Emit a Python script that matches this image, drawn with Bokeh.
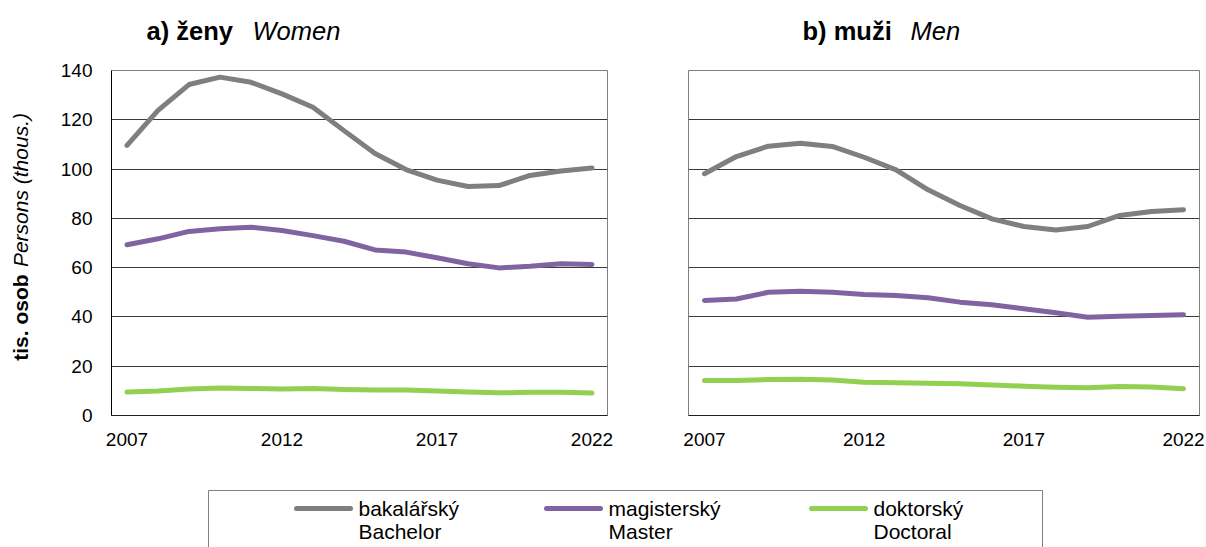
import math
from bokeh.plotting import figure
from bokeh.models import Range1d, FixedTicker
from bokeh.layouts import column, row
from bokeh.embed import file_html
from bokeh.resources import INLINE
from bokeh.core.properties import value

# ---------------- data ----------------
years = [2007, 2008, 2009, 2010, 2011, 2012, 2013, 2014,
         2015, 2016, 2017, 2018, 2019, 2020, 2021, 2022]

women_bachelor = [109.6, 123.8, 134.3, 137.3, 135.2, 130.5, 125.1, 115.6,
                  106.3, 99.8, 95.5, 92.9, 93.3, 97.4, 99.2, 100.4]
women_master = [69.3, 71.7, 74.7, 75.8, 76.4, 75.1, 73.0, 70.7,
                67.2, 66.3, 64.0, 61.6, 59.9, 60.6, 61.6, 61.3]
women_doctoral = [9.5, 9.9, 10.8, 11.2, 11.0, 10.8, 11.0, 10.6,
                  10.3, 10.3, 9.9, 9.5, 9.2, 9.4, 9.4, 9.1]

men_bachelor = [98.1, 105.1, 109.3, 110.5, 109.2, 104.8, 99.7, 91.6,
                85.2, 79.8, 76.7, 75.3, 76.7, 81.2, 82.8, 83.5]
men_master = [46.7, 47.3, 50.0, 50.4, 50.0, 49.1, 48.7, 47.8,
              46.0, 44.9, 43.3, 41.7, 39.9, 40.3, 40.6, 40.9]
men_doctoral = [14.2, 14.2, 14.6, 14.7, 14.4, 13.5, 13.3, 13.1,
                12.9, 12.4, 11.9, 11.5, 11.3, 11.8, 11.6, 10.9]

series_cz = ["bakalářský", "magisterský", "doktorský"]
series_en = ["Bachelor", "Master", "Doctoral"]
series_colors = ["#7f7f7f", "#8064a2", "#92d050"]

x_ticks = [2007, 2012, 2017, 2022]
y_ticks = [0, 20, 40, 60, 80, 100, 120, 140]

panel_titles_cz = ["a) ženy", "b) muži"]
panel_titles_en = ["Women", "Men"]
y_label_cz = "tis. osob"
y_label_en = "Persons (thous.)"

FONT = "Liberation Sans"


def strip(width, height, xr, yr):
    f = figure(width=width, height=height, x_range=xr, y_range=yr,
               output_backend="svg", toolbar_location=None,
               x_axis_type=None, y_axis_type=None, min_border=0)
    f.outline_line_color = None
    f.grid.visible = False
    return f


def make_panel(width, b_left, b_right, show_y):
    p = figure(width=width, height=430,
               x_range=Range1d(2006.5, 2022.5), y_range=Range1d(0, 140),
               output_backend="svg", toolbar_location=None,
               min_border_left=b_left, min_border_right=b_right,
               min_border_top=20, min_border_bottom=65)
    p.outline_line_color = "#808080"
    p.outline_line_width = 1
    p.xgrid.grid_line_color = None
    p.ygrid.ticker = FixedTicker(ticks=y_ticks)
    p.ygrid.grid_line_color = "#3a3a3a"
    p.ygrid.grid_line_width = 1

    p.xaxis.ticker = FixedTicker(ticks=x_ticks)
    p.xaxis.axis_line_color = "#202020"
    p.xaxis.major_tick_line_color = None
    p.xaxis.minor_tick_line_color = None
    p.xaxis.major_tick_out = 0
    p.xaxis.major_tick_in = 0
    p.xaxis.major_label_standoff = 17
    p.xaxis.major_label_text_font = FONT
    p.xaxis.major_label_text_font_size = "19px"
    p.xaxis.major_label_text_color = "#000000"

    p.yaxis.ticker = FixedTicker(ticks=y_ticks)
    if show_y:
        p.yaxis.axis_line_color = "#000000"
        p.yaxis.major_tick_line_color = None
        p.yaxis.minor_tick_line_color = None
        p.yaxis.major_tick_out = 0
        p.yaxis.major_tick_in = 0
        p.yaxis.major_label_standoff = 19
        p.yaxis.major_label_text_font = FONT
        p.yaxis.major_label_text_font_size = "19px"
        p.yaxis.major_label_text_color = "#000000"
    else:
        p.yaxis.visible = False
    return p


# ---------------- header (panel titles) ----------------
header = strip(1206, 50, Range1d(0, 1206), Range1d(50, 0))
header.text(x=[146, 802], y=[30, 30], text=panel_titles_cz,
            text_font=value(FONT), text_font_size="25.5px",
            text_font_style="bold", text_align="left",
            text_baseline="middle", text_color="#000000")
header.text(x=[252, 910], y=[30, 30], text=panel_titles_en,
            text_font=value(FONT), text_font_size="25.5px",
            text_font_style="italic", text_align="left",
            text_baseline="middle", text_color="#000000")

# ---------------- y-axis title strip ----------------
ystrip = strip(40, 430, Range1d(0, 40), Range1d(0, 430))
ystrip.text(x=[20], y=[122], text=[y_label_cz], angle=math.pi / 2,
            text_font=value(FONT), text_font_size="21px",
            text_font_style="bold", text_align="center",
            text_baseline="middle", text_color="#000000")
ystrip.text(x=[20], y=[281], text=[y_label_en], angle=math.pi / 2,
            text_font=value(FONT), text_font_size="21px",
            text_font_style="italic", text_align="center",
            text_baseline="middle", text_color="#000000")

# ---------------- panels ----------------
p1 = make_panel(600, 71, 33, True)
p2 = make_panel(566, 48, 7, False)

for p, data in ((p1, (women_bachelor, women_master, women_doctoral)),
                (p2, (men_bachelor, men_master, men_doctoral))):
    for vals, col in zip(data, series_colors):
        p.line(years, vals, line_color=col, line_width=5,
               line_join="round", line_cap="round")

# ---------------- legend strip ----------------
leg = strip(1206, 67, Range1d(0, 1206), Range1d(547, 480))

box_left, box_right, box_top, box_bottom = 208, 1042, 490, 548
leg.multi_line(xs=[[box_left, box_left, box_right, box_right]],
               ys=[[box_bottom, box_top, box_top, box_bottom]],
               line_color="#808080", line_width=1)

item_x = [296, 546, 811]
swatch_len = 54
leg.segment(x0=item_x, x1=[x + swatch_len for x in item_x],
            y0=[508] * 3, y1=[508] * 3, line_color=series_colors,
            line_width=5, line_cap="round")
leg.text(x=[x + swatch_len + 8 for x in item_x], y=[508] * 3, text=series_cz,
         text_font=value(FONT), text_font_size="21px",
         text_baseline="middle", text_align="left", text_color="#000000")
leg.text(x=[x + swatch_len + 8 for x in item_x], y=[531] * 3, text=series_en,
         text_font=value(FONT), text_font_size="21px",
         text_baseline="middle", text_align="left", text_color="#000000")

layout = column(header, row(ystrip, p1, p2), leg)

open("out.html", "w").write(file_html(layout, INLINE))
